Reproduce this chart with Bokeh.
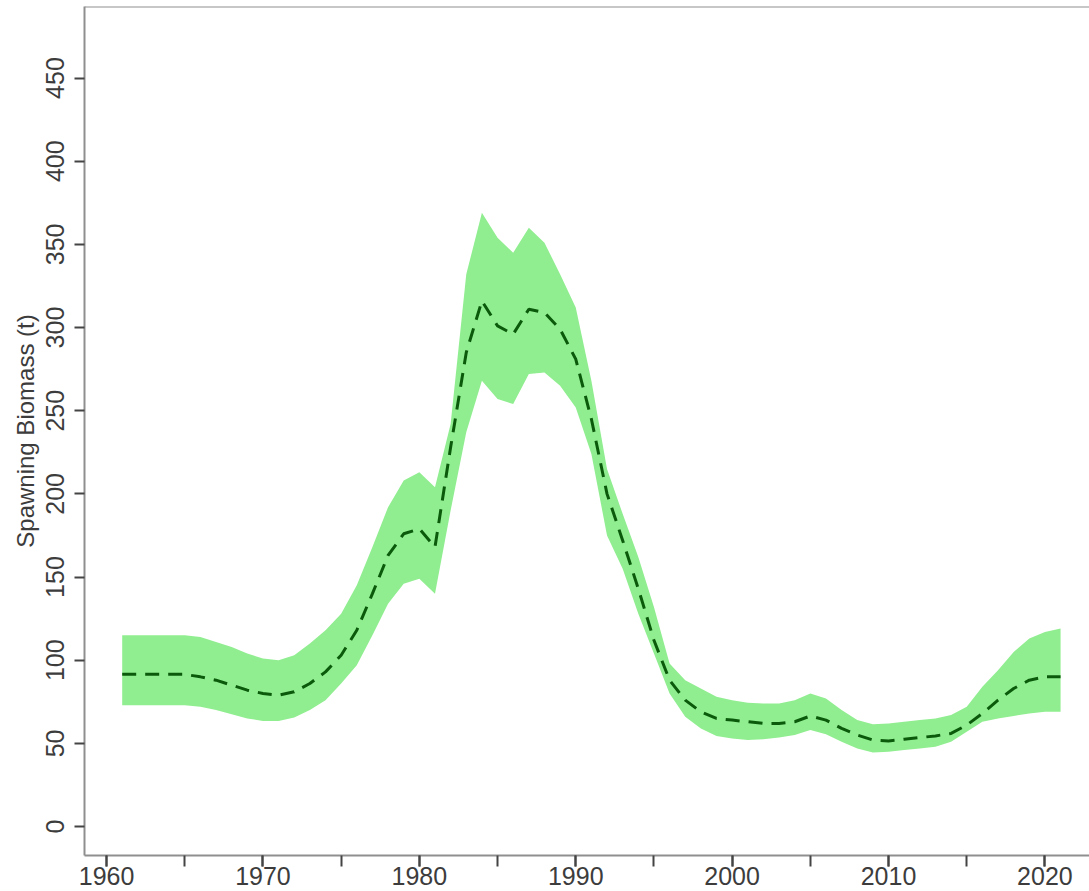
from bokeh.plotting import figure
from bokeh.models import Range1d, FixedTicker, SingleIntervalTicker, Span
from bokeh.embed import file_html
from bokeh.resources import INLINE

# Spawning biomass estimates (t), median with uncertainty band
years = list(range(1961, 2022))

median = [
    91.5, 91.5, 91.5, 91.5, 91.5,   # 1961-1965
    90, 88, 85, 82, 80,             # 1966-1970
    79, 81, 86, 93, 103,            # 1971-1975
    118, 140, 163, 176, 179,        # 1976-1980
    168, 228, 285, 316, 301,        # 1981-1985
    296, 311, 309, 299, 281,        # 1986-1990
    245, 200, 172, 143, 112,        # 1991-1995
    88, 76, 69, 65, 64,             # 1996-2000
    63, 62, 62, 63, 66.5,           # 2001-2005
    64, 59, 55, 52, 51.5,           # 2006-2010
    52.5, 53.5, 54.5, 56, 61,       # 2011-2015
    68, 76, 83, 88, 90,             # 2016-2020
    90,                             # 2021
]

upper = [
    115, 115, 115, 115, 115,
    114, 111, 108, 104, 101,
    100, 103, 110, 118, 128,
    145, 168, 192, 208, 213,
    204, 242, 332, 369, 354,
    345, 360, 351, 332, 312,
    268, 215, 188, 162, 132,
    98, 88, 83, 78, 76,
    74.5, 74, 74, 76, 80,
    77, 70, 64, 61.5, 62,
    63, 64, 65, 67, 72,
    84, 94, 105, 113, 117,
    119,
]

lower = [
    73, 73, 73, 73, 73,
    72, 70, 67.5, 65, 63.5,
    63.5, 65.5, 70, 76, 86,
    97, 115, 134, 146, 149,
    140, 190, 237, 268, 257,
    254, 272, 273, 265, 252,
    224, 175, 155, 128, 104,
    80, 66, 59, 54.5, 53,
    52, 52.5, 53.5, 55, 58,
    55.5, 51, 47, 44.5, 45,
    46, 47, 48, 51, 57,
    63, 65, 66.5, 68, 69,
    69,
]

y_ticks = [0, 50, 100, 150, 200, 250, 300, 350, 400, 450]

X0, X1 = 1958.59, 2022.85
Y0, Y1 = -17.4, 493.0

p = figure(
    width=1089, height=891,
    x_range=Range1d(X0, X1), y_range=Range1d(Y0, Y1),
    output_backend="svg", toolbar_location=None,
    min_border_left=84, min_border_right=0,
    min_border_top=6, min_border_bottom=36,
    background_fill_color="white", border_fill_color="white",
)

p.varea(x=years, y1=lower, y2=upper, fill_color="#90EE90")
p.line(years, median, line_color="#0b5a0b", line_width=3, line_dash="14 9")

p.grid.visible = False
p.outline_line_color = None
p.add_layout(Span(location=Y1, dimension="width",
                  line_color="#8f8f8f", line_width=2))

box_color = "#8f8f8f"
txt_color = "#3c3c3c"
font = "Liberation Sans"

xa = p.xaxis[0]
xa.ticker = SingleIntervalTicker(interval=10, num_minor_ticks=2)
xa.axis_line_color = box_color
xa.axis_line_width = 2
xa.major_tick_out = 11
xa.major_tick_in = 0
xa.minor_tick_out = 11
xa.minor_tick_in = 0
xa.major_tick_line_color = "#444444"
xa.minor_tick_line_color = "#444444"
xa.major_tick_line_width = 2
xa.minor_tick_line_width = 2
xa.major_label_text_font = font
xa.major_label_text_font_size = "25px"
xa.major_label_text_color = txt_color
xa.major_label_standoff = 0

ya = p.yaxis[0]
ya.ticker = FixedTicker(ticks=y_ticks)
ya.axis_line_color = box_color
ya.axis_line_width = 2
ya.major_tick_out = 10
ya.major_tick_in = 0
ya.major_tick_line_color = "#444444"
ya.major_tick_line_width = 2
ya.minor_tick_line_color = None
ya.major_label_orientation = "vertical"
ya.major_label_text_font = font
ya.major_label_text_font_size = "25px"
ya.major_label_text_color = txt_color
ya.major_label_standoff = 10
ya.axis_label = "Spawning Biomass (t)"
ya.axis_label_text_font = font
ya.axis_label_text_font_size = "24px"
ya.axis_label_text_font_style = "normal"
ya.axis_label_text_color = txt_color
ya.axis_label_standoff = 5

open("out.html", "w").write(file_html(p, INLINE))
